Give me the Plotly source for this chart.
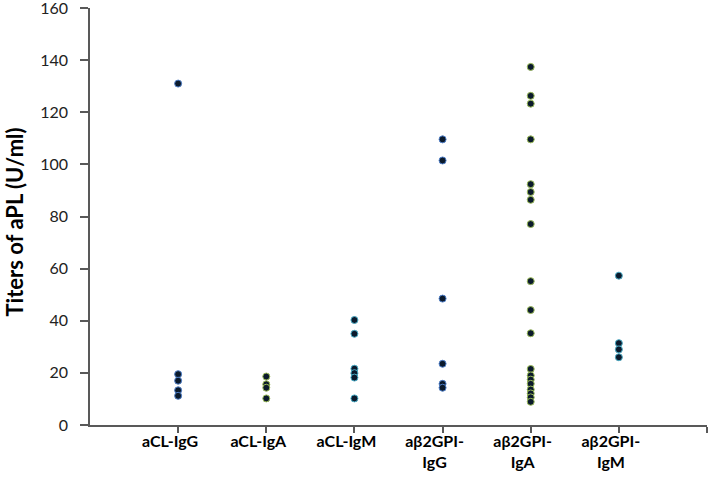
import plotly.graph_objects as go

# categories and titers (U/ml)
categories = ["aCL-IgG", "aCL-IgA", "aCL-IgM",
              "aβ2GPI-<br>IgG", "aβ2GPI-<br>IgA", "aβ2GPI-<br>IgM"]

acl_igg = [131, 19.5, 17, 13.3, 11.2]
acl_iga = [18.6, 15.6, 14.3, 10.2]
acl_igm = [40.3, 35, 21.6, 19.9, 18.2, 10.2]
b2gpi_igg = [109.6, 101.5, 48.5, 23.5, 15.8, 14.3]
b2gpi_iga = [137.4, 126.3, 123.3, 109.6, 92.4, 89.4, 86.4, 77.1, 55.2, 44.1,
             35.2, 21.5, 19.0, 17.4, 15.8, 13.6, 12.1, 10.6, 8.9]
b2gpi_igm = [57.3, 31.4, 29.0, 26.0]

y_ticks = [0, 20, 40, 60, 80, 100, 120, 140, 160]

series = [acl_igg, acl_iga, acl_igm, b2gpi_igg, b2gpi_iga, b2gpi_igm]
edge_colors = ["#4f7fc9", "#9bbb59", "#4bacc6", "#4f7fc9", "#9bbb59", "#4bacc6"]

fig = go.Figure()

for i, (vals, edge) in enumerate(zip(series, edge_colors), start=1):
    fig.add_trace(go.Scatter(
        x=[i] * len(vals),
        y=vals,
        mode="markers",
        marker=dict(size=7, color="#0b1a2c", line=dict(color=edge, width=1)),
        hoverinfo="y",
        showlegend=False,
    ))

axis_color = "#595959"

fig.update_layout(
    width=709,
    height=480,
    margin=dict(l=90, r=2, t=8, b=55),
    plot_bgcolor="white",
    paper_bgcolor="white",
    font=dict(family="Lato, Open Sans, sans-serif", color="#000000"),
    xaxis=dict(
        range=[0, 7],
        tickvals=list(range(1, 8)),
        ticktext=[f"<b>{c}</b>" for c in categories] + [""],
        ticks="outside",
        ticklen=6,
        tickwidth=1.5,
        tickcolor=axis_color,
        showline=True,
        linecolor=axis_color,
        linewidth=1.5,
        showgrid=False,
        zeroline=False,
        tickfont=dict(size=16),
        ticklabelshift=-8,
        ticklabelstandoff=-5,
        automargin=False,
        ticklabeloverflow="allow",
    ),
    yaxis=dict(
        range=[0, 160],
        tickvals=y_ticks,
        ticks="outside",
        ticklen=8,
        tickwidth=1.5,
        tickcolor=axis_color,
        showline=True,
        linecolor=axis_color,
        linewidth=1.5,
        showgrid=False,
        zeroline=False,
        tickfont=dict(size=16, color="#222222"),
        ticklabelstandoff=9,
        ticklabeloverflow="allow",
        automargin=False,
    ),
)

# y-axis title placed by hand so it sits close to the left edge
fig.add_annotation(
    text="<b>Titers of aPL (U/ml)</b>",
    xref="paper", yref="paper", x=0, y=0.5,
    xshift=-76, yshift=-6,
    xanchor="center", yanchor="middle",
    textangle=-90, showarrow=False,
    font=dict(size=22),
)

# drop the default page margin so the figure sits at the window's corner
fig.write_html("out.html", config={"displayModeBar": False},
               post_script="document.body.style.margin='0';")
